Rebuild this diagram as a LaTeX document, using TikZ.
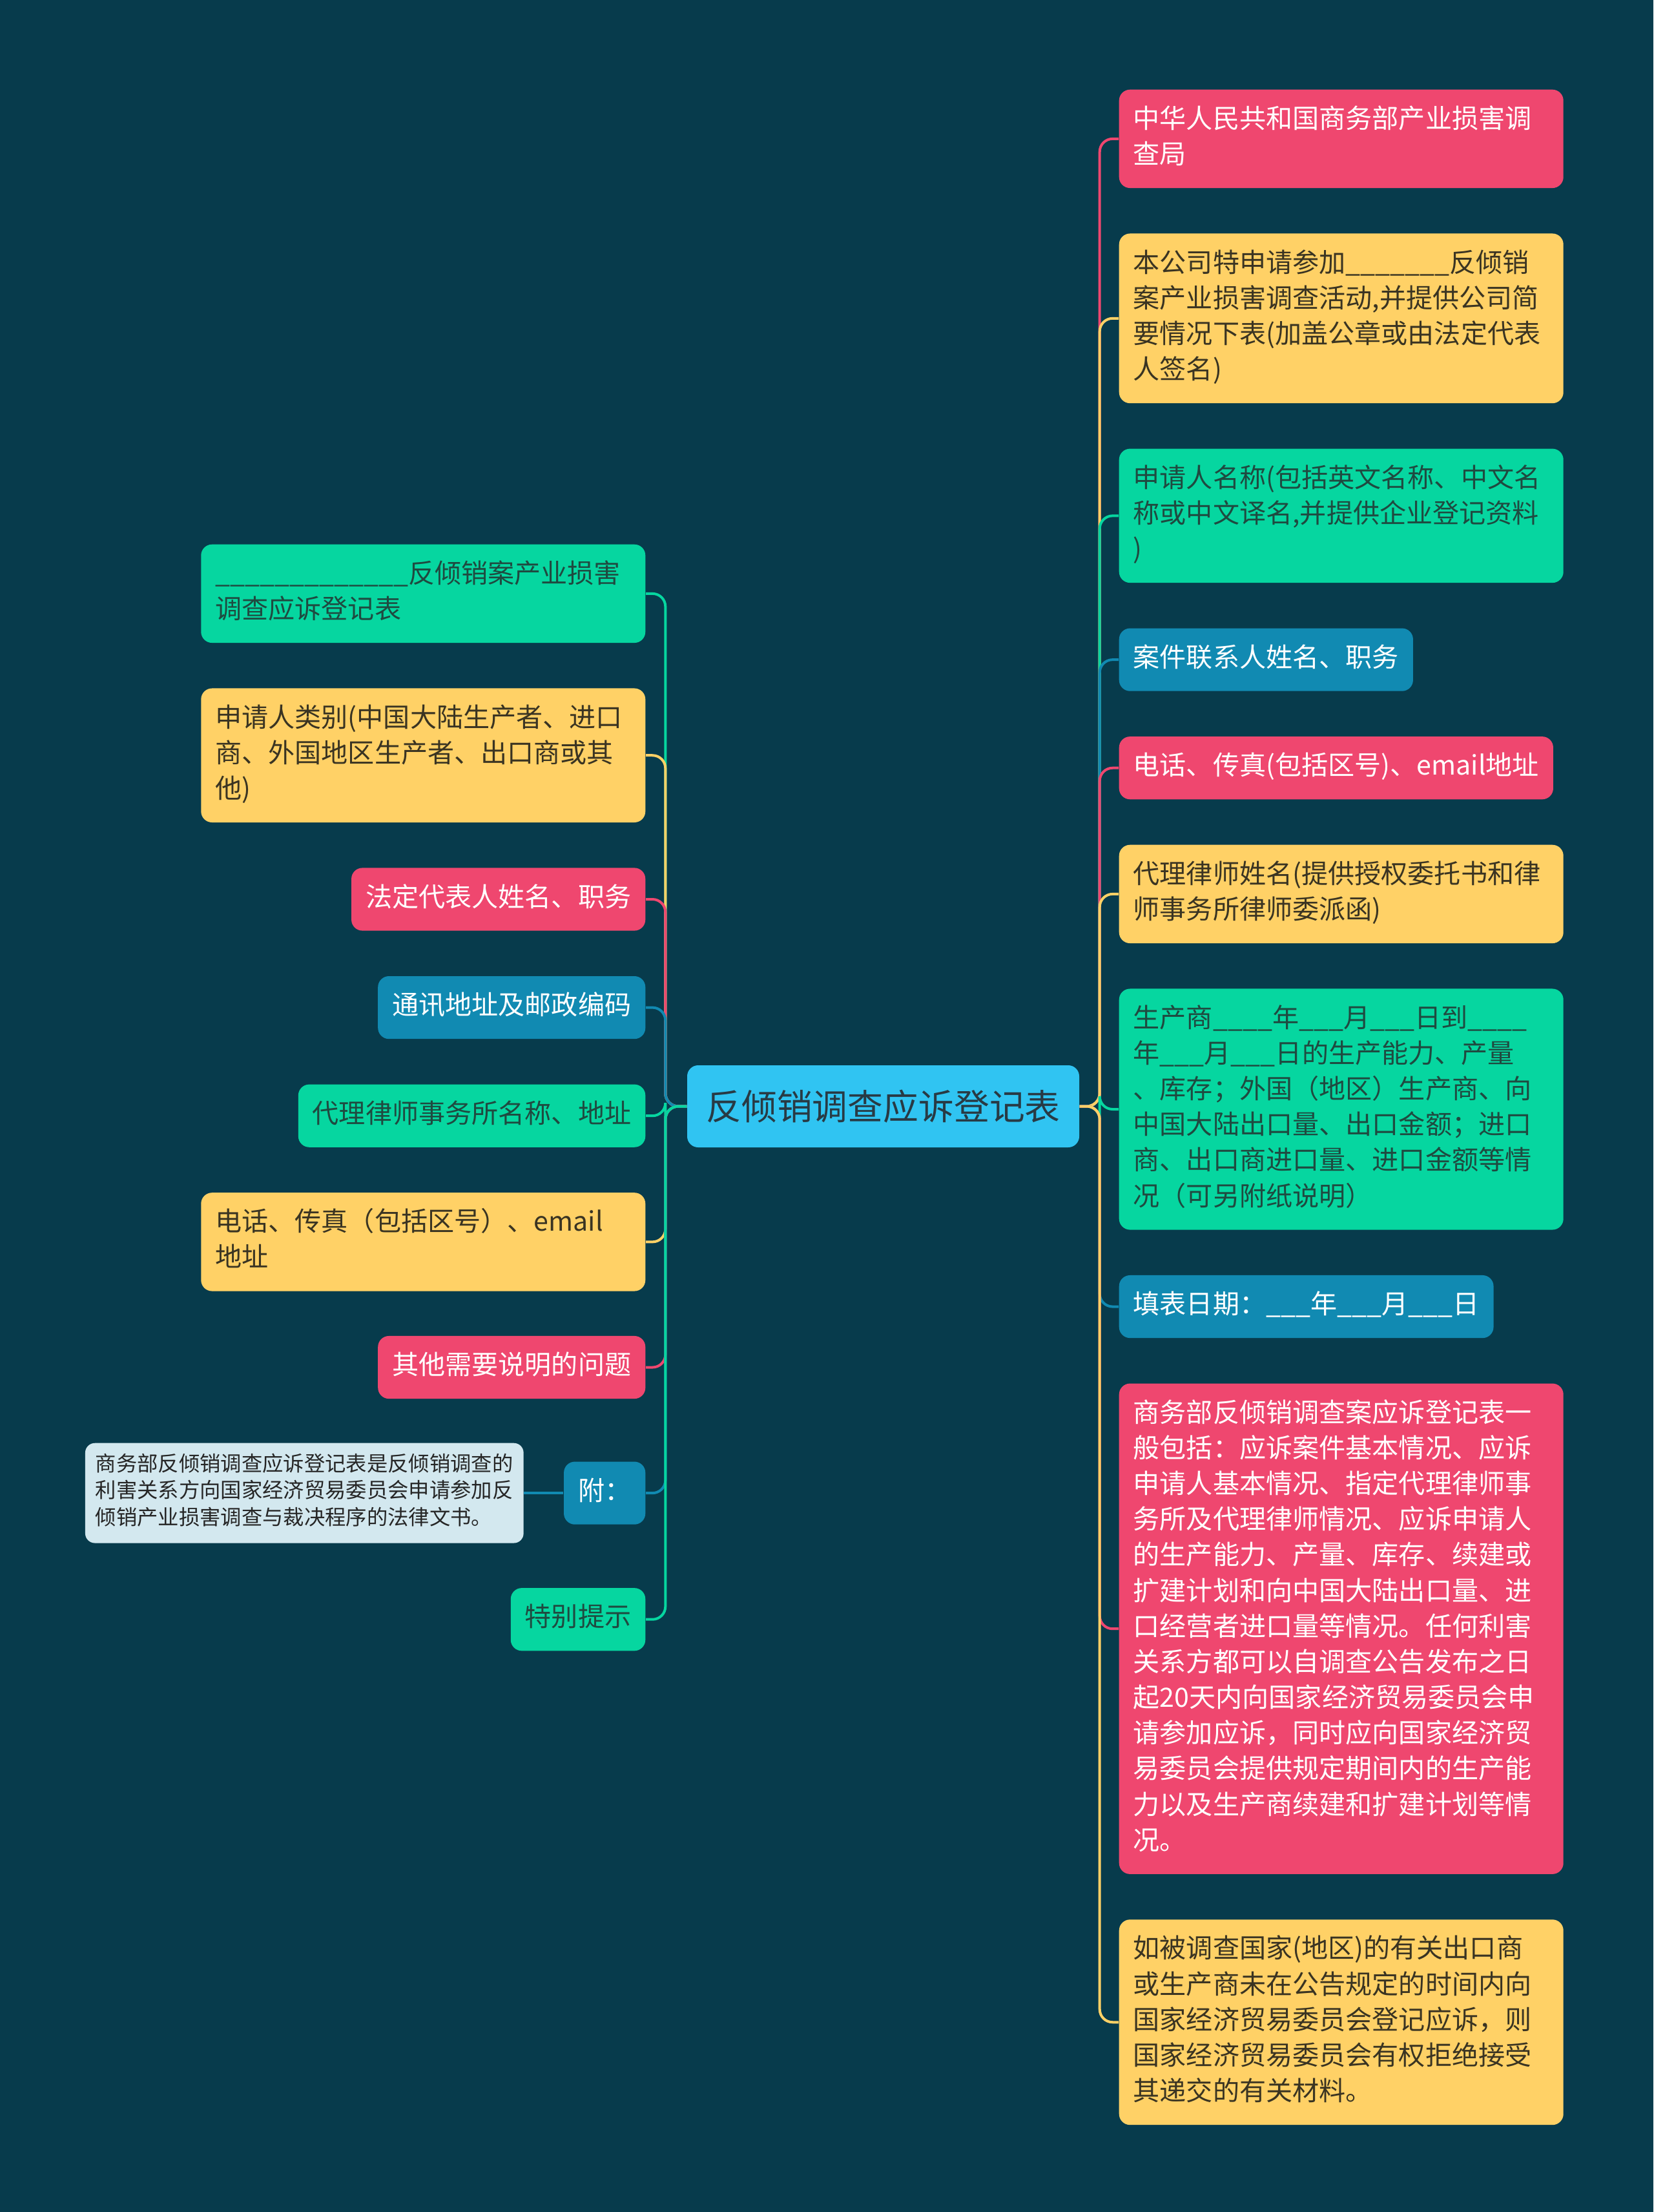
\documentclass[tikz,border=0pt]{standalone}
\usepackage{fontspec}
\setmainfont{Noto Sans CJK SC}
\usepackage{tikz}
\usetikzlibrary{positioning}
\definecolor{mapbg}{HTML}{073B4C}
\definecolor{mappink}{HTML}{EF476F}
\definecolor{mapyellow}{HTML}{FFD166}
\definecolor{mapgreen}{HTML}{06D6A0}
\definecolor{mapblue}{HTML}{118AB2}
\definecolor{maproot}{HTML}{30C4F2}
\definecolor{mapnote}{HTML}{D3E8EF}
\definecolor{yink}{HTML}{3A3422}
\definecolor{gink}{HTML}{1F4A40}
\definecolor{rink}{HTML}{283A44}

\begin{document}
\begin{tikzpicture}[
    node distance=0.69cm,
    topic/.style={rectangle, rounded corners=0.17cm, inner xsep=0.22cm, inner ysep=0.21cm, align=left,
        font=\fontsize{11.7}{15.7}\selectfont, execute at begin node=\strut, execute at end node=\strut},
    wide/.style={text width=6.44cm},
    pinkbox/.style={topic, fill=mappink, text=white},
    yellowbox/.style={topic, fill=mapyellow, text=yink},
    greenbox/.style={topic, fill=mapgreen, text=gink},
    bluebox/.style={topic, fill=mapblue, text=white},
    rootbox/.style={rectangle, rounded corners=0.17cm, fill=maproot, text=rink, minimum width=6.07cm,
        minimum height=1.27cm, font=\fontsize{15.6}{19}\selectfont},
    notebox/.style={rectangle, rounded corners=0.15cm, fill=mapnote, text=black!85, inner sep=0.16cm, align=left,
        font=\fontsize{9.2}{11.8}\selectfont, execute at begin node=\strut, execute at end node=\strut},
    link/.style={line width=0.04cm, rounded corners=0.2cm}
]
\fill[mapbg] (0,0) rectangle (25.6,-34.24);
\useasboundingbox (0,0) rectangle (25.6,-34.24);

\node[rootbox] (root) at (13.675,-17.125) {反倾销调查应诉登记表};

% right side
\node[pinkbox, wide, anchor=north west] (n1) at (17.32,-1.38) {中华人民共和国商务部产业损害调\\查局};
\node[yellowbox, wide, below=of n1.south west, anchor=north west] (n2) {本公司特申请参加\_\_\_\_\_\_\_反倾销\\案产业损害调查活动,并提供公司简\\要情况下表(加盖公章或由法定代表\\人签名)};
\node[greenbox, wide, below=of n2.south west, anchor=north west] (n3) {申请人名称(包括英文名称、中文名\\称或中文译名,并提供企业登记资料\\)};
\node[bluebox, below=of n3.south west, anchor=north west] (n4) {案件联系人姓名、职务};
\node[pinkbox, below=of n4.south west, anchor=north west] (n5) {电话、传真(包括区号)、email地址};
\node[yellowbox, wide, below=of n5.south west, anchor=north west] (n6) {代理律师姓名(提供授权委托书和律\\师事务所律师委派函)};
\node[greenbox, wide, below=of n6.south west, anchor=north west] (n7) {生产商\_\_\_\_年\_\_\_月\_\_\_日到\_\_\_\_\\年\_\_\_月\_\_\_日的生产能力、产量\\、库存；外国（地区）生产商、向\\中国大陆出口量、出口金额；进口\\商、出口商进口量、进口金额等情\\况（可另附纸说明）};
\node[bluebox, below=of n7.south west, anchor=north west] (n8) {填表日期：\_\_\_年\_\_\_月\_\_\_日};
\node[pinkbox, wide, below=of n8.south west, anchor=north west] (n9) {商务部反倾销调查案应诉登记表一\\般包括：应诉案件基本情况、应诉\\申请人基本情况、指定代理律师事\\务所及代理律师情况、应诉申请人\\的生产能力、产量、库存、续建或\\扩建计划和向中国大陆出口量、进\\口经营者进口量等情况。任何利害\\关系方都可以自调查公告发布之日\\起20天内向国家经济贸易委员会申\\请参加应诉，同时应向国家经济贸\\易委员会提供规定期间内的生产能\\力以及生产商续建和扩建计划等情\\况。};
\node[yellowbox, wide, below=of n9.south west, anchor=north west] (n10) {如被调查国家(地区)的有关出口商\\或生产商未在公告规定的时间内向\\国家经济贸易委员会登记应诉，则\\国家经济贸易委员会有权拒绝接受\\其递交的有关材料。};

% left side
\node[greenbox, wide, anchor=north east] (l1) at (10.00,-8.42) {\_\_\_\_\_\_\_\_\_\_\_\_\_反倾销案产业损害\\调查应诉登记表};
\node[yellowbox, wide, below=of l1.south east, anchor=north east] (l2) {申请人类别(中国大陆生产者、进口\\商、外国地区生产者、出口商或其\\他)};
\node[pinkbox, below=of l2.south east, anchor=north east] (l3) {法定代表人姓名、职务};
\node[bluebox, below=of l3.south east, anchor=north east] (l4) {通讯地址及邮政编码};
\node[greenbox, below=of l4.south east, anchor=north east] (l5) {代理律师事务所名称、地址};
\node[yellowbox, wide, below=of l5.south east, anchor=north east] (l6) {电话、传真（包括区号）、email\\地址};
\node[pinkbox, below=0.68cm of l6.south east, anchor=north east] (l7) {其他需要说明的问题};
\node[bluebox, below=0.96cm of l7.south east, anchor=north east] (l8) {附：};
\node[notebox, left=0.61cm of l8] (note) {商务部反倾销调查应诉登记表是反倾销调查的\\利害关系方向国家经济贸易委员会申请参加反\\倾销产业损害调查与裁决程序的法律文书。};
\node[greenbox, below=0.97cm of l8.south east, anchor=north east] (l9) {特别提示};

% links
\draw[link, mappink] (root.east) -- ++(0.31,0) |- (n1);
\draw[link, mapyellow] (root.east) -- ++(0.31,0) |- (n2);
\draw[link, mapgreen] (root.east) -- ++(0.31,0) |- (n3);
\draw[link, mapblue] (root.east) -- ++(0.31,0) |- (n4);
\draw[link, mappink] (root.east) -- ++(0.31,0) |- (n5);
\draw[link, mapyellow] (root.east) -- ++(0.31,0) |- (n6);
\draw[link, mapgreen] (root.east) -- ++(0.31,0) |- (n7);
\draw[link, mapblue] (root.east) -- ++(0.31,0) |- (n8);
\draw[link, mappink] (root.east) -- ++(0.31,0) |- (n9);
\draw[link, mapyellow] (root.east) -- ++(0.31,0) |- (n10);

\draw[link, mapgreen] (root.west) -- ++(-0.33,0) |- (l1);
\draw[link, mapyellow] (root.west) -- ++(-0.33,0) |- (l2);
\draw[link, mappink] (root.west) -- ++(-0.33,0) |- (l3);
\draw[link, mapblue] (root.west) -- ++(-0.33,0) |- (l4);
\draw[link, mapgreen] (root.west) -- ++(-0.33,0) |- (l5);
\draw[link, mapyellow] (root.west) -- ++(-0.33,0) |- (l6);
\draw[link, mappink] (root.west) -- ++(-0.33,0) |- (l7);
\draw[link, mapblue] (root.west) -- ++(-0.33,0) |- (l8);
\draw[link, mapgreen] (root.west) -- ++(-0.33,0) |- (l9);
\draw[link, mapblue] (l8) -- (note);
\end{tikzpicture}
\end{document}
